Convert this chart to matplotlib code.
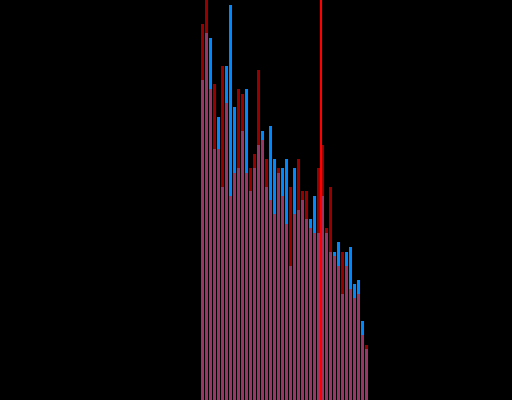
import numpy as np
import matplotlib
matplotlib.use("Agg")
import matplotlib.pyplot as plt

# Alturas das barras (escala em pixels, 0-400)
azul = [320, 367, 362, 251, 283, 213, 334, 395, 293, 232, 269,
        311, 209, 232, 255, 269, 213, 274, 241, 227, 232, 241,
        134, 232, 190, 200, 181, 181, 204, 167, 204, 167, 148,
        148, 158, 106, 148, 153, 116, 120, 79, 51]
vermelho = [376, 405, 311, 316, 251, 334, 297, 204, 227, 311, 306,
            227, 232, 246, 330, 260, 241, 200, 186, 232, 204, 176,
            213, 186, 241, 209, 209, 172, 167, 232, 255, 172, 213,
            144, 134, 148, 134, 111, 102, 106, 65, 55]
linha_x = 29.5

x = np.arange(len(azul))

fig = plt.figure(figsize=(5.12, 4), dpi=100, facecolor='black')
ax = fig.add_axes([0, 0, 1, 1])
ax.set_facecolor('black')

# Barras azuis e vermelhas sobrepostas
ax.bar(x, azul, width=0.75, color='#0088ff', linewidth=0)
ax.bar(x, vermelho, width=0.75, color='#ff0000', alpha=0.6, linewidth=0)
ax.axvline(linha_x, color='#ff0000', linewidth=1.5)

esq = -202.5 / 4
ax.set_xlim(esq, esq + 128)
ax.set_ylim(0, 400)
ax.axis('off')

plt.savefig('out.png', dpi=100, facecolor='black')
